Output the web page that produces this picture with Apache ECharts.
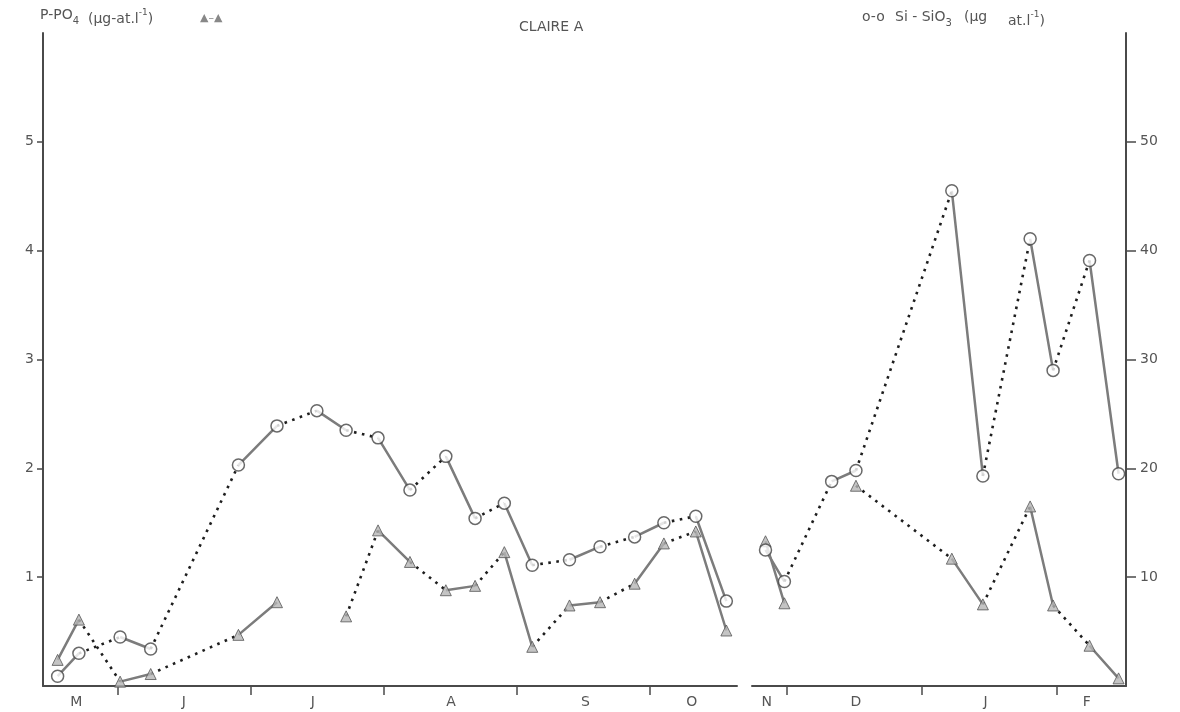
<!DOCTYPE html>
<html>
<head>
<meta charset="utf-8">
<script src="https://cdn.jsdelivr.net/npm/echarts@6/dist/echarts.min.js"></script>
<style>
html,body{margin:0;padding:0;background:#fff;}
#c{width:1180px;height:712px;}
</style>
</head>
<body>
<div id="c"></div>
<script>
// Sampling dates, in months counted from 1 May (May=0, Jun=1, ... Feb=9)
const datesA = [0.55, 0.71, 1.02, 1.25, 1.91, 2.20, 2.50, 2.72, 2.96, 3.20, 3.47, 3.69, 3.91, 4.12, 4.40, 4.63, 4.89, 5.11, 5.35, 5.58];
const poA    = [0.24, 0.61, 0.04, 0.11, 0.47, 0.77, null, 0.64, 1.43, 1.14, 0.88, 0.92, 1.23, 0.36, 0.74, 0.77, 0.94, 1.31, 1.42, 0.51];
const siA    = [0.9, 3.0, 4.5, 3.4, 20.3, 23.9, 25.3, 23.5, 22.8, 18.0, 21.1, 15.4, 16.8, 11.1, 11.6, 12.8, 13.7, 15.0, 15.6, 7.8];

const datesB = [6.84, 6.98, 7.33, 7.51, 8.22, 8.45, 8.80, 8.97, 9.24, 9.455];
const poB    = [1.33, 0.76, null, 1.84, 1.17, 0.75, 1.65, 0.74, 0.37, 0.07];
const siB    = [12.5, 9.6, 18.8, 19.8, 45.5, 19.3, 41.1, 29.0, 39.1, 19.5];

// Month axis: boundary ticks and label positions
const monthTicksA = [1, 2, 3, 4, 5];
const monthTicksB = [7, 8, 9];
const monthLabelPosA = [0.69, 1.50, 2.47, 3.51, 4.52, 5.32];
const monthLabelsA   = ['M', 'J', 'J', 'A', 'S', 'O'];
const monthLabelPosB = [6.85, 7.51, 8.47, 9.22];
const monthLabelsB   = ['N', 'D', 'J', 'F'];

const poTicks = [1, 2, 3, 4, 5];
const siTicks = [10, 20, 30, 40, 50];

// segments alternate: even -> solid, odd -> dotted
function segs(dates, vals, parity) {
  const out = [];
  for (let i = parity; i < dates.length - 1; i += 2) {
    if (vals[i] == null || vals[i + 1] == null) continue;
    out.push([dates[i], vals[i]]);
    out.push([dates[i + 1], vals[i + 1]]);
    out.push([dates[i + 1], '-']);
  }
  return out;
}
function pts(dates, vals) {
  const out = [];
  dates.forEach((d, i) => { if (vals[i] != null) out.push([d, vals[i]]); });
  return out;
}
function labelFmt(pos, labels) {
  return function (v) {
    for (let i = 0; i < pos.length; i++) if (Math.abs(pos[i] - v) < 1e-6) return labels[i];
    return '';
  };
}

const FONT = 'DejaVu Sans';
const TXT = '#555';
const AX = '#4a4a4a';

const solidStyle = { color: '#7c7c7c', width: 2.5, type: 'solid' };
const dotStyle = { color: '#1e1e1e', width: 2.6, type: [2.6, 5.5] };
const circleStyle = { color: '#fff', borderColor: '#444', borderWidth: 1.5 };
const triStyle = { color: '#b5b5b5', borderColor: '#555', borderWidth: 1 };

function xAxisCfg(grid, min, max, ticks, lpos, labels) {
  return {
    type: 'value', gridIndex: grid, min: min, max: max,
    axisLine: { show: true, onZero: false, lineStyle: { color: AX, width: 2 } },
    axisTick: { show: true, inside: false, length: 9, customValues: ticks, lineStyle: { color: AX, width: 1.5 } },
    axisLabel: { show: true, customValues: lpos, formatter: labelFmt(lpos, labels), margin: 9,
      color: TXT, fontFamily: FONT, fontSize: 14 },
    splitLine: { show: false }
  };
}

const chart = echarts.init(document.getElementById('c'), null, { renderer: 'canvas' });

function lineSeries(xi, yi, data, style) {
  return { type: 'line', xAxisIndex: xi, yAxisIndex: yi, data: data, showSymbol: false,
    symbol: 'none', connectNulls: false, lineStyle: style, silent: true, animation: false, z: 2 };
}
function markSeries(xi, yi, data, sym, size, style) {
  return { type: 'scatter', xAxisIndex: xi, yAxisIndex: yi, data: data, symbol: sym,
    symbolSize: size, itemStyle: style, animation: false, z: 3 };
}

const richBase = {
  t: { fontFamily: FONT, fontSize: 14, fill: TXT, lineHeight: 22, verticalAlign: 'middle' },
  s: { fontFamily: FONT, fontSize: 10, fill: TXT, lineHeight: 22, verticalAlign: 'bottom' },
  p: { fontFamily: FONT, fontSize: 9, fill: TXT, lineHeight: 22, verticalAlign: 'top' }
};
function hdr(x, y, text) {
  return { type: 'text', left: x, top: y, style: { text: text, fill: TXT, font: '14px ' + FONT, rich: richBase } };
}

chart.setOption({
  animation: false,
  backgroundColor: '#fff',
  grid: [
    { left: 43, right: 1180 - 737, top: 33, bottom: 26 },
    { left: 752, right: 1180 - 1126, top: 33, bottom: 26 }
  ],
  xAxis: [
    xAxisCfg(0, 0.44, 5.66, monthTicksA, monthLabelPosA, monthLabelsA),
    xAxisCfg(1, 6.74, 9.51, monthTicksB, monthLabelPosB, monthLabelsB)
  ],
  yAxis: [
    { type: 'value', gridIndex: 0, position: 'left', min: 0, max: 6,
      axisLine: { show: true, onZero: false, lineStyle: { color: AX, width: 2 } },
      axisTick: { show: true, inside: false, length: 6, customValues: poTicks, lineStyle: { color: AX, width: 1.5 } },
      axisLabel: { show: true, customValues: poTicks, margin: 9, color: TXT, fontFamily: FONT, fontSize: 14 },
      splitLine: { show: false } },
    { type: 'value', gridIndex: 0, min: 0, max: 60, show: false, splitLine: { show: false } },
    { type: 'value', gridIndex: 1, min: 0, max: 6, show: false, splitLine: { show: false } },
    { type: 'value', gridIndex: 1, position: 'right', min: 0, max: 60,
      axisLine: { show: true, onZero: false, lineStyle: { color: AX, width: 2 } },
      axisTick: { show: true, inside: false, length: 10, customValues: siTicks, lineStyle: { color: AX, width: 1.5 } },
      axisLabel: { show: true, customValues: siTicks, margin: 14, color: TXT, fontFamily: FONT, fontSize: 14 },
      splitLine: { show: false } }
  ],
  series: [
    lineSeries(0, 0, segs(datesA, poA, 0), solidStyle),
    lineSeries(0, 0, segs(datesA, poA, 1), dotStyle),
    lineSeries(0, 1, segs(datesA, siA, 0), solidStyle),
    lineSeries(0, 1, segs(datesA, siA, 1), dotStyle),
    lineSeries(1, 2, segs(datesB, poB, 0), solidStyle),
    lineSeries(1, 2, segs(datesB, poB, 1), dotStyle),
    lineSeries(1, 3, segs(datesB, siB, 0), solidStyle),
    lineSeries(1, 3, segs(datesB, siB, 1), dotStyle),
    markSeries(0, 0, pts(datesA, poA), 'triangle', 11, triStyle),
    markSeries(0, 1, pts(datesA, siA), 'circle', 12, circleStyle),
    markSeries(1, 2, pts(datesB, poB), 'triangle', 11, triStyle),
    markSeries(1, 3, pts(datesB, siB), 'circle', 12, circleStyle)
  ],
  graphic: [
    hdr(40, 8, '{t|P-PO}{s|4}'),
    hdr(88, 8, '{t|(µg-at.l}{p|-1}{t|)}'),
    { type: 'text', left: 200, top: 13, style: { text: '▲–▲', fill: '#888', font: '11px ' + FONT } },
    { type: 'text', left: 519, top: 20, style: { text: 'CLAIRE A', fill: TXT, font: '14px ' + FONT } },
    hdr(862, 10, '{t|o-o}'),
    hdr(895, 10, '{t|Si - SiO}{s|3}'),
    hdr(964, 10, '{t|(µg}'),
    hdr(1008, 10, '{t|at.l}{p|-1}{t|)}')
  ]
});
</script>
</body>
</html>
